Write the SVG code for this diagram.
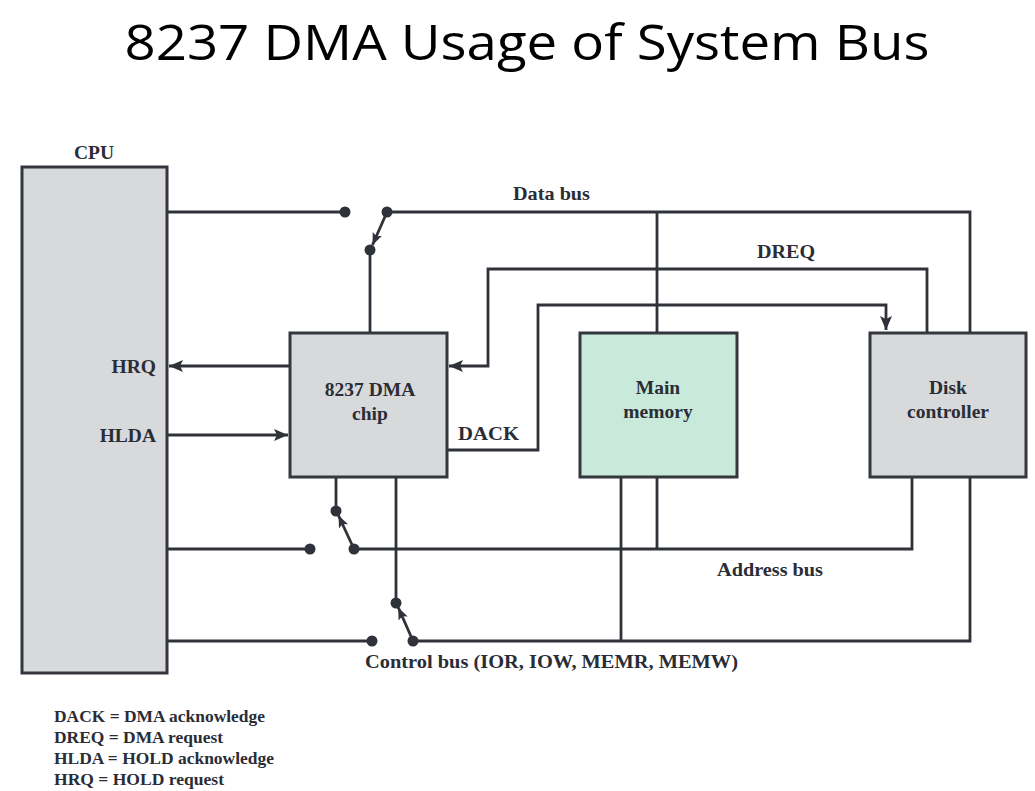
<svg xmlns="http://www.w3.org/2000/svg" width="1035" height="791" viewBox="0 0 1035 791">
<defs>
<marker id="arr" markerUnits="userSpaceOnUse" markerWidth="16" markerHeight="12" refX="14" refY="6" orient="auto">
<path d="M0,0 L14,6 L0,12 L3,6 z" fill="#2f3238"/>
</marker>
<marker id="sarr" markerUnits="userSpaceOnUse" markerWidth="14" markerHeight="12" refX="12" refY="5" orient="auto">
<path d="M0,0 L12,5 L0,10 L2.5,5 z" fill="#2f3238"/>
</marker>
<style>
.box{stroke:#34373d;stroke-width:3}
.grey{fill:#d8d9db}
.green{fill:#c9eada}
.ln{fill:none;stroke:#2f3238;stroke-width:2.8}
.dot{fill:#2f3238}
.lbl{font-family:"Liberation Serif",serif;font-weight:bold;font-size:19.5px;fill:#2a2d36}
.leg{font-family:"Liberation Serif",serif;font-weight:bold;font-size:16.5px;fill:#2a2d36}
.title{font-family:"Open Sans","Liberation Sans",sans-serif;font-size:50px;fill:#000}
</style>
</defs>
<rect width="1035" height="791" fill="#fff"/>
<text class="title" x="527" y="60" text-anchor="middle" textLength="805" lengthAdjust="spacingAndGlyphs">8237 DMA Usage of System Bus</text>

<g id="connectors">
<path class="ln" d="M167,212 H345"/>
<path class="ln" d="M387,212 H970 V332"/>
<path class="ln" d="M657,212 V332"/>
<path class="ln" d="M370,250 V332"/>
<path class="ln" d="M387,212 L372.5,245" marker-end="url(#sarr)"/>
<path class="ln" d="M927,332 V269 H488 V366 H449" marker-end="url(#arr)"/>
<path class="ln" d="M447,450 H538 V305 H886 V330" marker-end="url(#arr)"/>
<path class="ln" d="M290,366 H169" marker-end="url(#arr)"/>
<path class="ln" d="M167,435 H288" marker-end="url(#arr)"/>
<path class="ln" d="M167,549 H310"/>
<path class="ln" d="M354,549 H912 V477"/>
<path class="ln" d="M657,477 V549"/>
<path class="ln" d="M336,477 V511"/>
<path class="ln" d="M354,549 L338.5,515.5" marker-end="url(#sarr)"/>
<path class="ln" d="M167,641 H372"/>
<path class="ln" d="M413,641 H970 V477"/>
<path class="ln" d="M621,477 V641"/>
<path class="ln" d="M396,477 V603"/>
<path class="ln" d="M413,641 L398.3,607.5" marker-end="url(#sarr)"/>
<circle class="dot" cx="345" cy="212" r="5.5"/>
<circle class="dot" cx="387" cy="212" r="5.5"/>
<circle class="dot" cx="370" cy="250" r="5.5"/>
<circle class="dot" cx="310" cy="549" r="5.5"/>
<circle class="dot" cx="354" cy="549" r="5.5"/>
<circle class="dot" cx="336" cy="511" r="5.5"/>
<circle class="dot" cx="372" cy="641" r="5.5"/>
<circle class="dot" cx="413" cy="641" r="5.5"/>
<circle class="dot" cx="396" cy="603" r="5.5"/>
</g>

<g id="cpu">
<rect class="box grey" x="22" y="167" width="145" height="506"/>
<text class="lbl" x="94" y="159" text-anchor="middle">CPU</text>
<text class="lbl" x="156" y="373" text-anchor="end">HRQ</text>
<text class="lbl" x="156" y="442" text-anchor="end">HLDA</text>
</g>

<g id="dma">
<rect class="box grey" x="290" y="333" width="157" height="144"/>
<text class="lbl" x="370" y="396" text-anchor="middle">8237 DMA</text>
<text class="lbl" x="370" y="420" text-anchor="middle">chip</text>
</g>

<g id="memory">
<rect class="box green" x="580" y="333" width="157" height="144"/>
<text class="lbl" x="658" y="394" text-anchor="middle">Main</text>
<text class="lbl" x="658" y="418" text-anchor="middle">memory</text>
</g>

<g id="disk">
<rect class="box grey" x="870" y="333" width="156" height="144"/>
<text class="lbl" x="948" y="394" text-anchor="middle">Disk</text>
<text class="lbl" x="948" y="418" text-anchor="middle">controller</text>
</g>

<g id="labels">
<text class="lbl" x="513" y="200" textLength="77" lengthAdjust="spacingAndGlyphs">Data bus</text>
<text class="lbl" x="757" y="258" textLength="58" lengthAdjust="spacingAndGlyphs">DREQ</text>
<text class="lbl" x="458" y="440" textLength="61" lengthAdjust="spacingAndGlyphs">DACK</text>
<text class="lbl" x="717" y="576" textLength="106" lengthAdjust="spacingAndGlyphs">Address bus</text>
<text class="lbl" x="365" y="668" textLength="373" lengthAdjust="spacingAndGlyphs">Control bus (IOR, IOW, MEMR, MEMW)</text>
</g>

<g id="legend">
<text class="leg" x="54" y="722" textLength="211" lengthAdjust="spacingAndGlyphs">DACK = DMA acknowledge</text>
<text class="leg" x="54" y="743" textLength="169" lengthAdjust="spacingAndGlyphs">DREQ = DMA request</text>
<text class="leg" x="54" y="764" textLength="220" lengthAdjust="spacingAndGlyphs">HLDA = HOLD acknowledge</text>
<text class="leg" x="54" y="785" textLength="170" lengthAdjust="spacingAndGlyphs">HRQ = HOLD request</text>
</g>
</svg>
